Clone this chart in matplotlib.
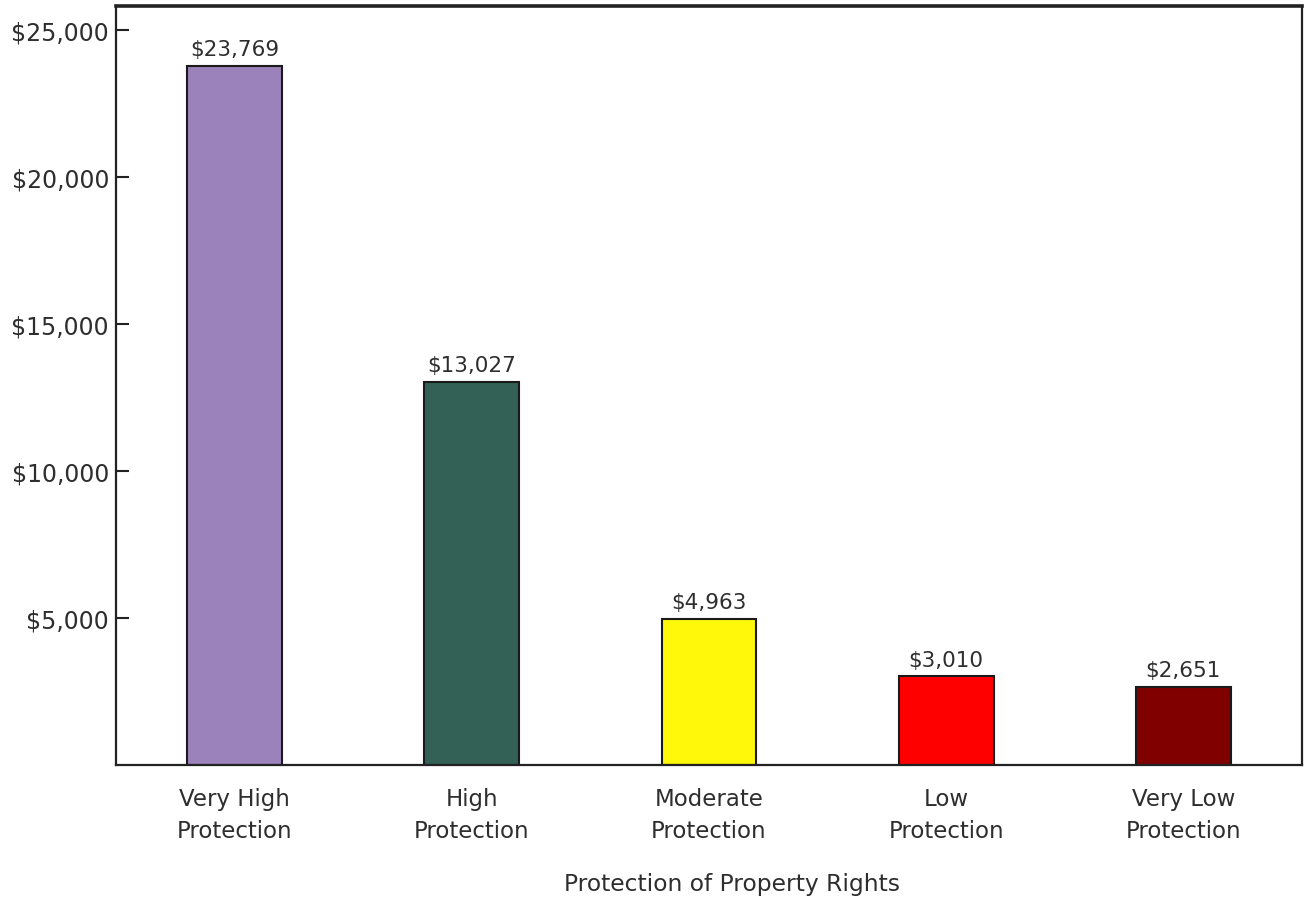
import matplotlib
matplotlib.use("Agg")
import matplotlib.pyplot as plt
from matplotlib.ticker import FuncFormatter

categories = ["Very High\nProtection", "High\nProtection", "Moderate\nProtection",
              "Low\nProtection", "Very Low\nProtection"]
gdp_per_capita = [23769, 13027, 4963, 3010, 2651]
bar_colors = ["#9b82bb", "#336155", "#fff80a", "#ff0000", "#800000"]
y_ticks = [5000, 10000, 15000, 20000, 25000]

plt.rcParams["font.family"] = ["DejaVu Sans"]
text_color = "#2e2e2e"

fig = plt.figure(figsize=(13.04, 9.03), dpi=100)
ax = fig.add_axes([116 / 1304, 137 / 903, 1186 / 1304, 759 / 903])

x = list(range(len(categories)))
ax.bar(x, gdp_per_capita, width=0.4, color=bar_colors,
       edgecolor="#1a1a1a", linewidth=1.5, zorder=2)

for xi, v in zip(x, gdp_per_capita):
    ax.annotate(f"${v:,}", (xi, v), xytext=(0, 5), textcoords="offset points",
                ha="center", va="bottom", fontsize=15.5, color=text_color)

ax.set_xlim(-0.5, 4.5)
ax.set_ylim(0, 25800)
ax.set_xticks(x)
ax.set_xticklabels(categories, fontsize=16.5, color=text_color, linespacing=1.5)
ax.set_yticks(y_ticks)
ax.yaxis.set_major_formatter(FuncFormatter(lambda v, p: f"${int(v):,}"))
ax.tick_params(axis="y", direction="in", length=9, width=1.5, pad=5,
               labelsize=17, labelcolor=text_color, color="#222222")
ax.tick_params(axis="x", length=0, pad=16)

for side, spine in ax.spines.items():
    spine.set_linewidth(1.6)
    spine.set_color("#222222")
ax.spines["top"].set_linewidth(2.6)

ax.set_xlabel("Protection of Property Rights", fontsize=16.8, color=text_color)
ax.xaxis.set_label_coords(0.519, -0.141)

fig.savefig("out.png", dpi=100, facecolor="white")
